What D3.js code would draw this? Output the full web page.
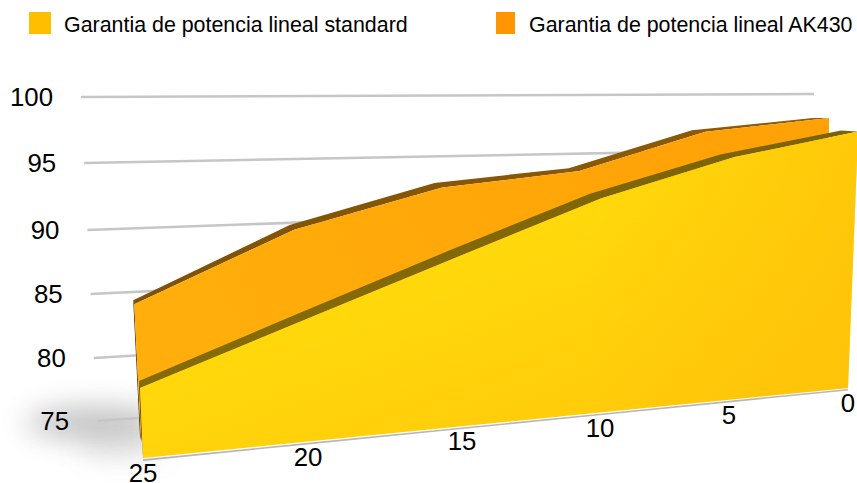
<!DOCTYPE html>
<html><head><meta charset="utf-8">
<script src="https://cdn.jsdelivr.net/npm/d3@7/dist/d3.min.js"></script>
<style>html,body{margin:0;background:#fff}svg{display:block}text{font-family:"Liberation Sans",Arial,sans-serif;fill:#000}</style>
</head><body><svg id="c" width="857" height="483"></svg>
<script>
const years = [25, 20, 15, 10, 5, 0];
const standard = [80, 84.1, 88.3, 92.4, 95.5, 97.5];
const ak430 = [84.7, 89.6, 92.5, 93.6, 96.8, 98];
const valueTicks = [75, 80, 85, 90, 95, 100];
const seriesNames = ["Garantia de potencia lineal standard", "Garantia de potencia lineal AK430"];

const svg = d3.select("#c");
const defs = svg.append("defs");

function grad(id, stops, x1, y1, x2, y2) {
  const g = defs.append("linearGradient").attr("id", id).attr("gradientUnits", "userSpaceOnUse")
    .attr("x1", x1).attr("y1", y1).attr("x2", x2).attr("y2", y2);
  stops.forEach(([o, c, a]) => g.append("stop").attr("offset", o).attr("stop-color", c).attr("stop-opacity", a === undefined ? 1 : a));
}
grad("gStd", [[0, "#FFDD0C"], [1, "#FFCA0A"]], 500, 170, 600, 440);
grad("gStdRight", [[0, "#FEC008", 0], [1, "#FEC008", 0.6]], 580, 0, 850, 0);
grad("gAk", [[0, "#FFAE0B"], [1, "#FFA207"]], 250, 400, 700, 120);
grad("gStdTop", [[0, "#866C08"], [1, "#7B6208"]], 140, 0, 850, 0);
grad("gAkTop", [[0, "#7E5207"], [1, "#8F5C06"]], 140, 0, 830, 0);
const blur = defs.append("filter").attr("id", "blur").attr("filterUnits", "userSpaceOnUse")
  .attr("x", -100).attr("y", 300).attr("width", 500).attr("height", 283);
blur.append("feGaussianBlur").attr("stdDeviation", 14);

// A skewed wall in the 3D view: bilinear between its left and right edges.
function plane(o) {
  const xs = d3.scaleLinear().domain(years).range(o.xs);
  const f = d3.scaleLinear().domain([o.xs[0], o.xs[5]]).range([0, 1]);
  const base = d3.scaleLinear().domain([0, 1]).range(o.base);
  const unit = d3.scaleLinear().domain([0, 1]).range(o.unit);
  const lean = d3.scaleLinear().domain([0, 1]).range(o.lean);
  const dx = d3.scaleLinear().domain([0, 1]).range(o.dx);
  const dy = d3.scaleLinear().domain([0, 0.4, 1]).range(o.dy);
  return (yr, v, back) => {
    const x0 = xs(yr), t = f(x0);
    return [x0 + lean(t) * (v - 75) + (back ? dx(t) : 0),
            base(t) - unit(t) * (v - 75) + (back ? dy(t) : 0)];
  };
}
const pStd = plane({xs: [143, 308, 462, 600, 729, 848], base: [458, 388], unit: [14, 11.4], lean: [-0.6, 0.45], dx: [-1, -17], dy: [-7, -7, -1]});
const pAk = plane({xs: [141, 302, 449, 584, 708, 829], base: [440, 371], unit: [14, 11], lean: [-0.7, 0], dx: [-1, -16], dy: [-4, -5, 0]});

// back wall gridlines
const gridXLeft = d3.scaleLinear().domain([75, 100]).range([97, 81]);
const gridYLeft = d3.scaleLinear().domain(valueTicks).range([421, 358, 294, 230, 163, 97]);
const gridXRight = d3.scaleLinear().domain([75, 100]).range([814, 814]);
const gridYRight = d3.scaleLinear().domain([75, 100]).range([370, 94]);

// shadows
svg.append("ellipse").attr("cx", 98).attr("cy", 423).attr("rx", 72).attr("ry", 16).attr("fill", "#777").attr("opacity", .46).attr("filter", "url(#blur)");
svg.append("ellipse").attr("cx", 122).attr("cy", 447).attr("rx", 46).attr("ry", 6).attr("fill", "#888").attr("opacity", .42).attr("filter", "url(#blur)");

svg.append("g").selectAll("line").data(valueTicks).join("line")
  .attr("x1", gridXLeft).attr("y1", gridYLeft).attr("x2", gridXRight).attr("y2", gridYRight)
  .attr("stroke", "#c6c6c6").attr("stroke-width", 2.6);

svg.append("g").selectAll("text").data(valueTicks).join("text")
  .attr("x", d => gridXLeft(d) - 28).attr("y", gridYLeft).attr("dy", "0.35em")
  .attr("text-anchor", "end").attr("font-size", 25.8).text(d => d);

const line = d3.line();
function series(p, vals, faces, top, sideBase) {
  const frontTop = years.map((y, i) => p(y, vals[i]));
  const backTop = years.map((y, i) => p(y, vals[i], true));
  const g = svg.append("g");
  g.append("path").attr("d", line([...backTop, ...frontTop.slice().reverse()]) + "Z").attr("fill", `url(#${top})`);
  g.append("path").attr("d", line([p(25, vals[0], true), p(25, vals[0]), p(25, 75), p(25, sideBase, true)]) + "Z").attr("fill", "#3a2a05");
  const baseLine = years.map(y => p(y, 75)).reverse();
  faces.forEach(face => g.append("path").attr("d", line([...frontTop, ...baseLine]) + "Z").attr("fill", `url(#${face})`));
}
series(pAk, ak430, ["gAk"], "gAkTop", 75);
// soft shadow along the front base
svg.append("path").attr("d", line(years.map(y => pStd(y, 74.85)))).attr("fill", "none").attr("stroke", "#999").attr("stroke-width", 1.6).attr("opacity", .7);
series(pStd, standard, ["gStd", "gStdRight"], "gStdTop", 76.5);

// year labels under the base
svg.append("g").selectAll("text").data(years).join("text")
  .attr("x", d => pStd(d, 75)[0]).attr("y", d => pStd(d, 75)[1] + 15).attr("dy", "0.35em")
  .attr("text-anchor", "middle").attr("font-size", 25.8).text(d => d);

// legend
const legendSwatch = [[29, 22, "#FFBE00"], [496, 19, "#FF9500"]];
const legendText = [64, 529];
seriesNames.forEach((n, i) => {
  svg.append("rect").attr("x", legendSwatch[i][0]).attr("y", 12).attr("width", legendSwatch[i][1]).attr("height", 22).attr("fill", legendSwatch[i][2]);
  svg.append("text").attr("x", legendText[i]).attr("y", 25).attr("dy", "0.35em").attr("font-size", 21.4).text(n);
});
</script></body></html>
